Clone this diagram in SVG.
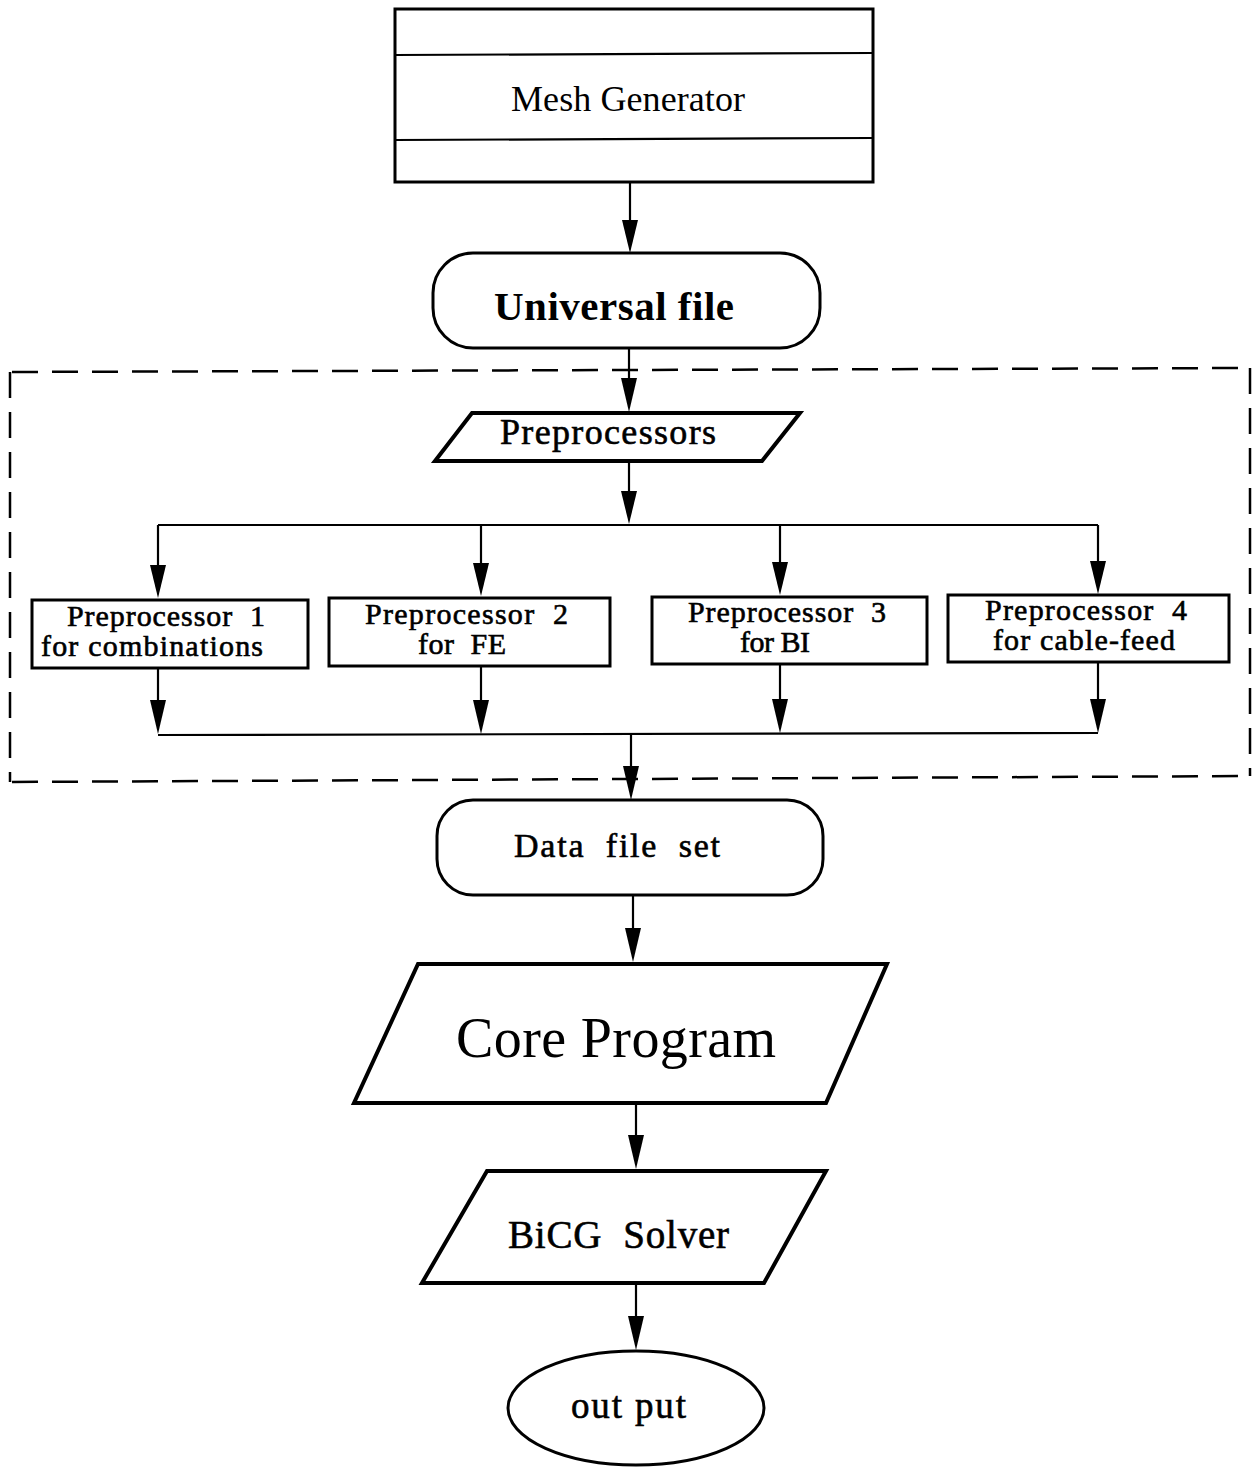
<svg xmlns="http://www.w3.org/2000/svg" width="1252" height="1467" viewBox="0 0 1252 1467" xml:space="preserve">
<style>
.box{fill:#fff;stroke:#000;stroke-width:3}
.thick{fill:#fff;stroke:#000;stroke-width:4;stroke-linejoin:miter}
.ln{fill:none;stroke:#000;stroke-width:2.2}
.t{font-family:"Liberation Serif","Times New Roman",serif;fill:#000;white-space:pre}
.m{stroke:#000;stroke-width:0.6}
.dash{fill:none;stroke:#000;stroke-width:2.5;stroke-dasharray:26,14}
</style>
<rect width="1252" height="1467" fill="#fff"/>

<g id="group-boundary">
<path class="dash" d="M12,372 L1250,368"/>
<path class="dash" d="M12,782 L1250,776"/>
<path class="dash" d="M10,372 L10,782"/>
<path class="dash" d="M1250,368 L1250,776"/>
</g>

<g id="connectors">
<path class="ln" d="M630,182 L630,222"/><path d="M622,220 L638,220 L630,253 Z"/>
<path class="ln" d="M629,348 L629,380"/><path d="M621,378 L637,378 L629,412 Z"/>
<path class="ln" d="M629,461 L629,493"/><path d="M621,491 L637,491 L629,524 Z"/>
<path class="ln" d="M158,525 L1098,525"/>
<path class="ln" d="M158,525 L158,567"/><path d="M150,565 L166,565 L158,598 Z"/>
<path class="ln" d="M481,525 L481,565"/><path d="M473,563 L489,563 L481,596 Z"/>
<path class="ln" d="M780,525 L780,564"/><path d="M772,562 L788,562 L780,595 Z"/>
<path class="ln" d="M1098,525 L1098,563"/><path d="M1090,561 L1106,561 L1098,594 Z"/>
<path class="ln" d="M158,668 L158,702"/><path d="M150,700 L166,700 L158,734 Z"/>
<path class="ln" d="M481,666 L481,702"/><path d="M473,700 L489,700 L481,734 Z"/>
<path class="ln" d="M780,664 L780,701"/><path d="M772,699 L788,699 L780,733 Z"/>
<path class="ln" d="M1098,662 L1098,701"/><path d="M1090,699 L1106,699 L1098,733 Z"/>
<path class="ln" d="M158,735 L1098,733"/>
<path class="ln" d="M631,734 L631,768"/><path d="M623,766 L639,766 L631,800 Z"/>
<path class="ln" d="M633,895 L633,930"/><path d="M625,928 L641,928 L633,962 Z"/>
<path class="ln" d="M636,1103 L636,1137"/><path d="M628,1135 L644,1135 L636,1169 Z"/>
<path class="ln" d="M636,1283 L636,1318"/><path d="M628,1316 L644,1316 L636,1350 Z"/>
</g>

<g id="mesh-generator">
<rect class="box" x="395" y="9" width="478" height="173"/>
<path class="ln" d="M395,55 L873,53"/>
<path class="ln" d="M395,140 L873,138"/>
<text class="t" x="511" y="111" font-size="36" textLength="234">Mesh Generator</text>
</g>

<g id="universal-file">
<rect class="box" x="433" y="253" width="387" height="95" rx="40" ry="40"/>
<text class="t" x="494" y="320" font-size="41" font-weight="bold" textLength="240">Universal file</text>
</g>

<g id="preprocessors">
<path class="thick" d="M472,413 L800,413 L762,461 L435,461 Z"/>
<text class="t m" x="500" y="444" font-size="36" textLength="216">Preprocessors</text>
</g>

<g id="preprocessor-1">
<rect class="box" x="32" y="600" width="276" height="68"/>
<text class="t m" x="67" y="626" font-size="30" textLength="198">Preprocessor  1</text>
<text class="t m" x="41" y="656" font-size="30" textLength="222">for combinations</text>
</g>

<g id="preprocessor-2">
<rect class="box" x="329" y="598" width="281" height="68"/>
<text class="t m" x="365" y="624" font-size="30" textLength="203">Preprocessor  2</text>
<text class="t m" x="418" y="654" font-size="30" textLength="88">for  FE</text>
</g>

<g id="preprocessor-3">
<rect class="box" x="652" y="597" width="275" height="67"/>
<text class="t m" x="688" y="622" font-size="30" textLength="198">Preprocessor  3</text>
<text class="t m" x="740" y="652" font-size="30" textLength="70">for BI</text>
</g>

<g id="preprocessor-4">
<rect class="box" x="948" y="595" width="281" height="67"/>
<text class="t m" x="985" y="620" font-size="30" textLength="202">Preprocessor  4</text>
<text class="t m" x="993" y="650" font-size="30" textLength="182">for cable-feed</text>
</g>

<g id="data-file-set">
<rect class="box" x="437" y="800" width="386" height="95" rx="36" ry="36"/>
<text class="t m" x="514" y="857" font-size="34" textLength="206">Data  file  set</text>
</g>

<g id="core-program">
<path class="thick" d="M418,964 L887,964 L826,1103 L354,1103 Z"/>
<text class="t" x="456" y="1057" font-size="56" textLength="320">Core Program</text>
</g>

<g id="bicg-solver">
<path class="thick" d="M487,1171 L826,1171 L764,1283 L422,1283 Z"/>
<text class="t m" x="508" y="1248" font-size="39" textLength="221">BiCG  Solver</text>
</g>

<g id="output">
<ellipse class="box" cx="636" cy="1408" rx="128" ry="57"/>
<text class="t m" x="571" y="1418" font-size="37" textLength="115">out put</text>
</g>
</svg>
